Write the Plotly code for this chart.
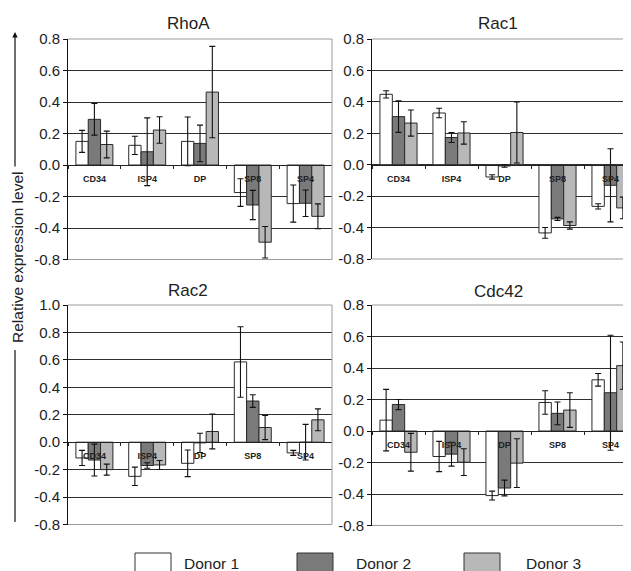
import plotly.graph_objects as go

# ---------------- data ----------------
categories = ["CD34", "ISP4", "DP", "SP8", "SP4"]
donors = ["Donor 1", "Donor 2", "Donor 3"]

rhoa_d1 = [0.15, 0.125, 0.15, -0.175, -0.245]
rhoa_d1_err = [0.07, 0.058, 0.155, 0.088, 0.118]
rhoa_d2 = [0.29, 0.084, 0.137, -0.254, -0.243]
rhoa_d2_err = [0.10, 0.215, 0.116, 0.093, 0.084]
rhoa_d3 = [0.13, 0.222, 0.463, -0.49, -0.326]
rhoa_d3_err = [0.085, 0.084, 0.29, 0.10, 0.079]

rac1_d1 = [0.448, 0.329, -0.078, -0.434, -0.265]
rac1_d1_err = [0.023, 0.03, 0.014, 0.034, 0.017]
rac1_d2 = [0.306, 0.173, -0.008, -0.345, -0.131]
rac1_d2_err = [0.10, 0.032, 0.008, 0.01, 0.233]
rac1_d3 = [0.265, 0.202, 0.205, -0.387, -0.275]
rac1_d3_err = [0.083, 0.071, 0.194, 0.023, 0.069]

rac2_d1 = [-0.115, -0.249, -0.154, 0.585, -0.078]
rac2_d1_err = [0.055, 0.067, 0.097, 0.257, 0.018]
rac2_d2 = [-0.13, -0.17, -0.005, 0.30, 0.0]
rac2_d2_err = [0.116, 0.02, 0.07, 0.046, 0.13]
rac2_d3 = [-0.2, -0.166, 0.078, 0.107, 0.163]
rac2_d3_err = [0.04, 0.033, 0.127, 0.088, 0.08]

cdc42_d1 = [0.069, -0.162, -0.41, 0.181, 0.325]
cdc42_d1_err = [0.195, 0.096, 0.028, 0.075, 0.04]
cdc42_d2 = [0.168, -0.147, -0.362, 0.112, 0.243]
cdc42_d2_err = [0.032, 0.076, 0.05, 0.072, 0.365]
cdc42_d3 = [-0.135, -0.198, -0.204, 0.133, 0.415]
cdc42_d3_err = [0.12, 0.085, 0.155, 0.11, 0.15]

tick_vals_08 = [-0.6, -0.4, -0.2, 0.0, 0.2, 0.4, 0.6, 0.8]
tick_text_08 = ["-0.8", "-0.4", "-0.2", "0.0", "0.2", "0.4", "0.6", "0.8"]
tick_vals_10 = [-0.6, -0.4, -0.2, 0.0, 0.2, 0.4, 0.6, 0.8, 1.0]
tick_text_10 = ["-0.8", "-0.4", "-0.2", "0.0", "0.2", "0.4", "0.6", "0.8", "1.0"]

# ---------------- styling / layout ----------------
W, H = 631, 571
OFF = 8  # page margin of the viewer
colors = ["#ffffff", "#7a7a7a", "#b8b8b8"]
FONT = "Liberation Sans, Arial, sans-serif"


def fx(p):
    return (p - OFF) / W


def fy(p):
    return 1 - (p - OFF) / H


panels = [
    dict(title="RhoA", data=[(rhoa_d1, rhoa_d1_err), (rhoa_d2, rhoa_d2_err), (rhoa_d3, rhoa_d3_err)],
         xpx=(68, 332), ypx=(39, 259.5), yr=(-0.6, 0.8),
         tv=tick_vals_08, tt=tick_text_08, tpos=(188, 23), border_right=True),
    dict(title="Rac1", data=[(rac1_d1, rac1_d1_err), (rac1_d2, rac1_d2_err), (rac1_d3, rac1_d3_err)],
         xpx=(372, 637), ypx=(39, 259), yr=(-0.6, 0.8),
         tv=tick_vals_08, tt=tick_text_08, tpos=(498, 23), border_right=False),
    dict(title="Rac2", data=[(rac2_d1, rac2_d1_err), (rac2_d2, rac2_d2_err), (rac2_d3, rac2_d3_err)],
         xpx=(68, 332), ypx=(305, 524.5), yr=(-0.6, 1.0),
         tv=tick_vals_10, tt=tick_text_10, tpos=(188, 290), border_right=True),
    dict(title="Cdc42", data=[(cdc42_d1, cdc42_d1_err), (cdc42_d2, cdc42_d2_err), (cdc42_d3, cdc42_d3_err)],
         xpx=(372, 637), ypx=(305, 525.5), yr=(-0.6, 0.8),
         tv=tick_vals_08, tt=tick_text_08, tpos=(498, 291), border_right=False),
]

fig = go.Figure()
layout = {}
annotations = []
shapes = []

for i, p in enumerate(panels):
    n = "" if i == 0 else str(i + 1)
    xa, ya = "x" + n, "y" + n
    for (vals, errs), donor, col in zip(p["data"], donors, colors):
        fig.add_trace(go.Bar(
            x=categories, y=vals, name=donor, showlegend=False,
            xaxis=xa, yaxis=ya,
            marker=dict(color=col, line=dict(color="#2a2a2a", width=1)),
            error_y=dict(type="data", array=errs, color="#111111", thickness=1.1, width=3),
        ))
    y0d, y1d = fy(p["ypx"][1]), fy(p["ypx"][0])
    r0, r1 = p["yr"]
    zero_pos = y0d + (0 - r0) / (r1 - r0) * (y1d - y0d)
    layout["xaxis" + n] = dict(
        domain=[fx(p["xpx"][0]), min(1.0, fx(p["xpx"][1]))], range=[-0.5, 4.5], type="category",
        anchor="free", position=zero_pos, showline=True, linecolor="#222222", linewidth=1,
        ticks="outside", tickson="boundaries", ticklen=3, tickcolor="#222222",
        tickfont=dict(family=FONT, size=9, color="#222222", weight="bold"),
        ticklabelstandoff=5, showgrid=False, zeroline=False, layer="above traces",
        automargin=False,
    )
    layout["yaxis" + n] = dict(
        domain=[y0d, y1d], range=[r0, r1], anchor=xa, tickvals=p["tv"], ticktext=p["tt"],
        showline=True, linecolor="#111111", linewidth=1, ticks="outside", ticklen=4,
        tickcolor="#111111", showgrid=True, gridcolor="#2e2e2e", gridwidth=1,
        zeroline=False, tickfont=dict(family=FONT, size=15, color="#222222"),
        automargin=False,
    )
    xd, yd = xa + " domain", ya + " domain"
    shapes.append(dict(type="line", xref=xd, yref=yd, x0=0, x1=1, y0=1, y1=1,
                       line=dict(color="#9a9a9a", width=1), layer="above"))
    shapes.append(dict(type="line", xref=xd, yref=yd, x0=0, x1=1, y0=0, y1=0,
                       line=dict(color="#9a9a9a", width=1), layer="above"))
    if p["border_right"]:
        shapes.append(dict(type="line", xref=xd, yref=yd, x0=1, x1=1, y0=0, y1=1,
                           line=dict(color="#9a9a9a", width=1), layer="above"))
    annotations.append(dict(text=p["title"], x=fx(p["tpos"][0]), y=fy(p["tpos"][1]),
                            xref="paper", yref="paper", showarrow=False,
                            font=dict(family=FONT, size=17, color="#222222"),
                            xanchor="center", yanchor="middle"))

# y-axis title with arrow line
annotations.append(dict(text="Relative expression level", textangle=-90,
                        x=fx(17), y=fy(258), xref="paper", yref="paper", showarrow=False,
                        font=dict(family=FONT, size=15.5, color="#222222"),
                        xanchor="center", yanchor="middle"))
annotations.append(dict(text="", x=fx(15), y=fy(32), xref="paper", yref="paper",
                        showarrow=True, ax=0, ay=136, arrowhead=2, arrowsize=0.9,
                        arrowwidth=1.2, arrowcolor="#111111"))
shapes.append(dict(type="line", xref="paper", yref="paper", x0=fx(15), x1=fx(15),
                   y0=fy(350), y1=fy(522), line=dict(color="#111111", width=1.2)))

# legend drawn as boxes + labels
legend_boxes = [(135, 171), (297, 333), (464, 500)]
legend_text_x = [182, 354, 524]
for (bx0, bx1), tx, donor, col in zip(legend_boxes, legend_text_x, donors, colors):
    shapes.append(dict(type="rect", xref="paper", yref="paper", x0=fx(bx0), x1=fx(bx1),
                       y0=fy(580), y1=fy(553), fillcolor=col,
                       line=dict(color="#333333", width=1)))
    annotations.append(dict(text=donor, x=fx(tx), y=fy(563), xref="paper", yref="paper",
                            showarrow=False, xanchor="left", yanchor="middle",
                            font=dict(family=FONT, size=15.5, color="#222222")))

fig.update_layout(
    **layout,
    width=W, height=H, margin=dict(l=0, r=0, t=0, b=0, autoexpand=False),
    autosize=False,
    paper_bgcolor="white", plot_bgcolor="white",
    barmode="group", bargap=0.3, bargroupgap=0,
    annotations=annotations, shapes=shapes, showlegend=False,
)

fig.write_html("out.html")
